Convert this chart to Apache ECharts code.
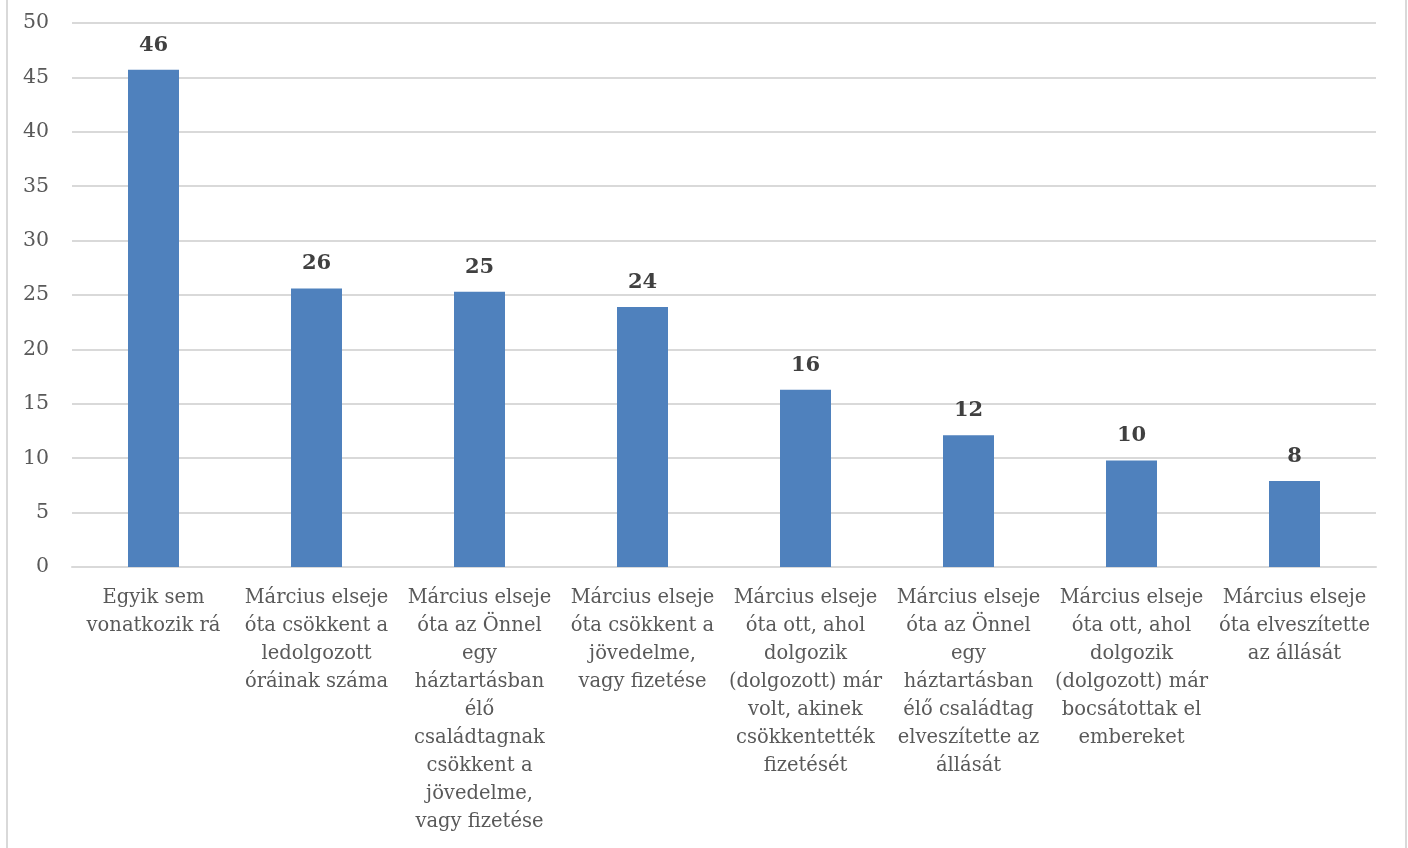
<!DOCTYPE html>
<html>
<head>
<meta charset="utf-8">
<script src="https://cdn.jsdelivr.net/npm/echarts@6/dist/echarts.min.js"></script>
<style>
html,body{margin:0;padding:0;background:#fff;}
#frame{position:absolute;left:6px;top:-2px;width:1397px;height:852px;border-left:2px solid #d9d9d9;border-right:2px solid #d9d9d9;}
#chart{position:absolute;left:0;top:0;width:1408px;height:848px;}
</style>
</head>
<body>
<div id="frame"></div>
<div id="chart"></div>
<script>
const categories = [
  "Egyik sem\nvonatkozik rá",
  "Március elseje\nóta csökkent a\nledolgozott\nóráinak száma",
  "Március elseje\nóta az Önnel\negy\nháztartásban\nélő\ncsaládtagnak\ncsökkent a\njövedelme,\nvagy fizetése",
  "Március elseje\nóta csökkent a\njövedelme,\nvagy fizetése",
  "Március elseje\nóta ott, ahol\ndolgozik\n(dolgozott) már\nvolt, akinek\ncsökkentették\nfizetését",
  "Március elseje\nóta az Önnel\negy\nháztartásban\nélő családtag\nelveszítette az\nállását",
  "Március elseje\nóta ott, ahol\ndolgozik\n(dolgozott) már\nbocsátottak el\nembereket",
  "Március elseje\nóta elveszítette\naz állását"
];
const values = [45.7, 25.6, 25.3, 23.9, 16.3, 12.1, 9.8, 7.9];
const yTicks = [0, 5, 10, 15, 20, 25, 30, 35, 40, 45, 50];

const FONT = "DejaVu Serif";
const chart = echarts.init(document.getElementById('chart'));
chart.setOption({
  animation: false,
  grid: {left: 72, right: 32, top: 23, bottom: 281, containLabel: false},
  xAxis: {
    type: 'category',
    data: categories,
    axisLine: {lineStyle: {color: '#d9d9d9', width: 2}},
    axisTick: {show: false},
    axisLabel: {interval: 0, color: '#595959', fontFamily: FONT, fontSize: 19.5, lineHeight: 28, margin: 17}
  },
  yAxis: {
    type: 'value',
    min: yTicks[0], max: yTicks[yTicks.length - 1], interval: 5,
    axisLine: {show: false},
    axisTick: {show: false},
    splitLine: {lineStyle: {color: '#d9d9d9', width: 2}},
    axisLabel: {color: '#595959', fontFamily: FONT, fontSize: 20.5, margin: 23}
  },
  series: [{
    type: 'bar',
    data: values,
    barWidth: 51,
    itemStyle: {color: '#4f81bd'},
    label: {
      show: true, position: 'top', distance: 14,
      color: '#404040', fontFamily: FONT, fontWeight: 'bold', fontSize: 21,
      formatter: p => Math.round(p.value)
    }
  }]
});
</script>
</body>
</html>
